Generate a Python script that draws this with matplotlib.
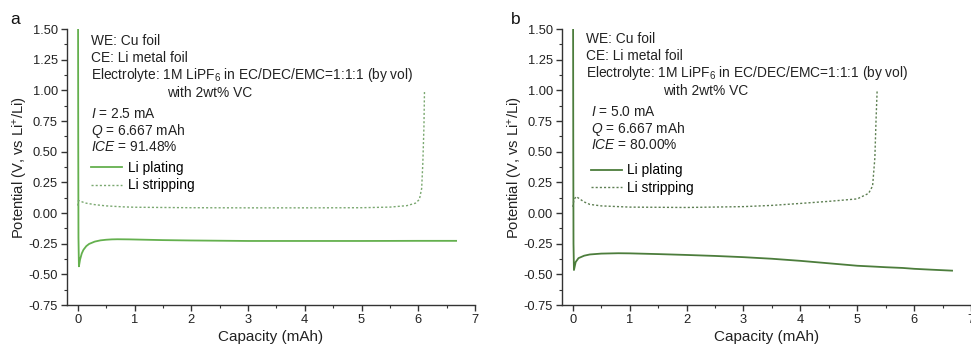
import numpy as np
import matplotlib
matplotlib.use("Agg")
import matplotlib.pyplot as plt
from matplotlib.ticker import MultipleLocator

plt.rcParams['font.family'] = ['Liberation Sans', 'DejaVu Sans']
plt.rcParams['mathtext.fontset'] = 'custom'
plt.rcParams['mathtext.rm'] = 'Liberation Sans'
plt.rcParams['mathtext.it'] = 'Liberation Sans:italic'

# ---- Panel a data ----
a_plate_x = [0.005, 0.008, 0.012, 0.02, 0.04, 0.07, 0.1, 0.15, 0.2, 0.3, 0.4, 0.5, 0.6, 0.7, 0.9, 1.2, 1.5, 2.0, 2.5, 3.0, 4.0, 5.0, 6.0, 6.667]
a_plate_y = [1.50, 0.60, -0.20, -0.435, -0.38, -0.33, -0.30, -0.27, -0.252, -0.233, -0.223, -0.218, -0.215, -0.214, -0.215, -0.218, -0.221, -0.224, -0.226, -0.228, -0.228, -0.228, -0.227, -0.227]
a_strip_x = [0.0, 0.01, 0.03, 0.08, 0.15, 0.3, 0.5, 0.8, 1.0, 2.0, 3.0, 4.0, 5.0, 5.5, 5.8, 5.95, 6.02, 6.06, 6.08, 6.1, 6.11]
a_strip_y = [0.06, 0.10, 0.10, 0.09, 0.08, 0.068, 0.058, 0.05, 0.047, 0.043, 0.042, 0.042, 0.043, 0.048, 0.06, 0.08, 0.11, 0.2, 0.4, 0.7, 1.00]

# ---- Panel b data ----
b_plate_x = [0.005, 0.008, 0.012, 0.02, 0.05, 0.1, 0.2, 0.3, 0.5, 0.8, 1.0, 1.5, 2.0, 2.5, 3.0, 3.5, 4.0, 4.5, 5.0, 5.3, 5.5, 5.8, 6.0, 6.3, 6.667]
b_plate_y = [1.50, 0.60, -0.25, -0.465, -0.40, -0.368, -0.348, -0.338, -0.331, -0.328, -0.329, -0.335, -0.342, -0.350, -0.360, -0.373, -0.390, -0.410, -0.430, -0.437, -0.442, -0.448, -0.455, -0.462, -0.470]
b_strip_x = [0.0, 0.02, 0.06, 0.12, 0.2, 0.3, 0.5, 1.0, 2.0, 3.0, 3.5, 4.0, 4.5, 5.0, 5.2, 5.27, 5.31, 5.33, 5.35]
b_strip_y = [0.05, 0.11, 0.134, 0.115, 0.09, 0.07, 0.058, 0.048, 0.045, 0.052, 0.062, 0.078, 0.095, 0.115, 0.16, 0.22, 0.45, 0.75, 1.00]

panels = [
    dict(label='a', plx=a_plate_x, ply=a_plate_y, stx=a_strip_x, sty=a_strip_y,
         color='#64b04e', scolor='#7aa870', I='2.5', ICE='91.48%',
         dy=0.0, dx2=0.0, leg=(0.06, 0.522)),
    dict(label='b', plx=b_plate_x, ply=b_plate_y, stx=b_strip_x, sty=b_strip_y,
         color='#4c7d3c', scolor='#5d7f52', I='5.0', ICE='80.00%',
         dy=0.02, dx2=0.09, leg=(0.07, 0.513)),
]

W, H = 971, 347
fig = plt.figure(figsize=(W / 100, H / 100), dpi=100)

# axes positions in pixels: left, top, right, bottom
boxes = [(67, 29, 475, 305), (562, 29, 971, 305)]

for p, (l, t, r, b) in zip(panels, boxes):
    ax = fig.add_axes([l / W, 1 - b / H, (r - l) / W, (b - t) / H])
    ax.plot(p['plx'], p['ply'], color=p['color'], lw=1.3, label='Li plating')
    ax.plot(p['stx'], p['sty'], color=p['scolor'], lw=1.0, ls=(0, (1.5, 1.5)), label='Li stripping')
    ax.set_xlim(-0.19, 7.0)
    ax.set_ylim(-0.75, 1.5)
    ax.xaxis.set_major_locator(MultipleLocator(1))
    ax.xaxis.set_minor_locator(MultipleLocator(0.5))
    ax.yaxis.set_major_locator(MultipleLocator(0.25))
    ax.yaxis.set_minor_locator(MultipleLocator(0.125))
    ax.yaxis.set_major_formatter(matplotlib.ticker.FormatStrFormatter('%.2f'))
    for s in ['top', 'right']:
        ax.spines[s].set_visible(False)
    for s in ['left', 'bottom']:
        ax.spines[s].set_linewidth(1.0)
        ax.spines[s].set_color('#333333')
    ax.tick_params(which='major', direction='out', length=4, width=1.0, labelsize=9.3,
                   colors='#333333', labelcolor='#222222', pad=2.5)
    ax.tick_params(which='minor', direction='out', length=2.5, width=0.8, colors='#333333')
    ax.set_xlabel('Capacity (mAh)', fontsize=11, color='#222222', labelpad=3)
    ax.set_ylabel('Potential (V, vs Li$^{+}$/Li)', fontsize=10.6, color='#222222', labelpad=-1)

    fs = 9.9
    tx = 0.23
    dy = p['dy']
    kw = dict(fontsize=fs, va='center', color='#222222')
    ax.text(tx, 1.40 + dy, 'WE: Cu foil', **kw)
    ax.text(tx, 1.262 + dy, 'CE: Li metal foil', **kw)
    ax.text(tx, 1.123 + dy, 'Electrolyte: 1M LiPF$_6$ in EC/DEC/EMC=1:1:1 (by vol)', **kw)
    ax.text(1.58, 0.977 + dy, 'with 2wt% VC', **kw)
    ax.text(tx + p['dx2'], 0.806 + dy, '$I$ = ' + p['I'] + ' mA', **kw)
    ax.text(tx + p['dx2'], 0.667 + dy, '$Q$ = 6.667 mAh', **kw)
    ax.text(tx + p['dx2'], 0.536 + dy, '$ICE$ = ' + p['ICE'], **kw)
    ax.legend(loc='upper left', bbox_to_anchor=p['leg'], frameon=False, fontsize=fs,
              handlelength=2.25, handletextpad=0.4, labelspacing=0.25, borderaxespad=0,
              borderpad=0)

fig.text(15 / W, 1 - 20 / H, 'a', fontsize=12.5, va='center', ha='center', color='#111111')
fig.text(516 / W, 1 - 19 / H, 'b', fontsize=12.5, va='center', ha='center', color='#111111')

fig.savefig('out.png', dpi=100)
